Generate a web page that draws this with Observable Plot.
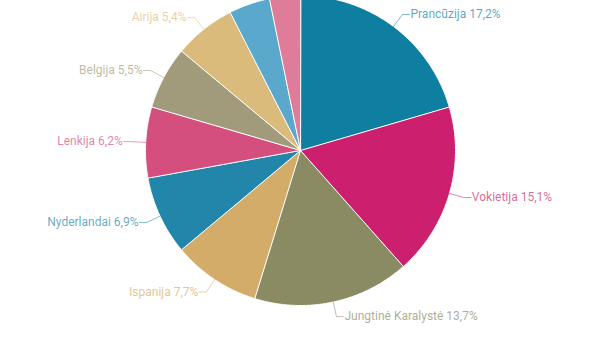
<!DOCTYPE html>
<html>
<head>
<meta charset="utf-8">
<script src="https://cdn.jsdelivr.net/npm/d3@7"></script>
<script src="https://cdn.jsdelivr.net/npm/@observablehq/plot@0.6"></script>
<style>
  html, body { margin: 0; padding: 0; background: #fff; }
  #chart { width: 600px; height: 360px; overflow: hidden; }
</style>
</head>
<body>
<div id="chart"></div>
<script>
const names = ["Prancūzija", "Vokietija", "Jungtinė Karalystė", "Ispanija", "Nyderlandai", "Lenkija", "Belgija", "Airija", "Kita1", "Kita2"];
const values = [17.2, 15.1, 13.7, 7.7, 6.9, 6.2, 5.5, 5.4, 3.6, 2.7];
const labelTexts = ["Prancūzija 17,2%", "Vokietija 15,1%", "Jungtinė Karalystė 13,7%", "Ispanija 7,7%", "Nyderlandai 6,9%", "Lenkija 6,2%", "Belgija 5,5%", "Airija 5,4%", "", ""];
const colors = ["#0e7fa0", "#cc1f6d", "#8a8a63", "#d4ac69", "#2186aa", "#d44e7e", "#a19b7b", "#dbbb7b", "#5aa8cb", "#df7c9a"];

const R = 155;
const total = d3.sum(values);
let acc = 0;
const slices = values.map((v, i) => {
  const a0 = acc / total * 2 * Math.PI;
  acc += v;
  const a1 = acc / total * 2 * Math.PI;
  return {name: names[i], label: labelTexts[i], color: colors[i], a0, a1, mid: (a0 + a1) / 2};
});

const polyPts = [];
for (const s of slices) {
  polyPts.push({name: s.name, color: s.color, x: 0, y: 0});
  const n = Math.max(2, Math.ceil((s.a1 - s.a0) / (Math.PI / 360)));
  for (let k = 0; k <= n; k++) {
    const a = s.a0 + (s.a1 - s.a0) * k / n;
    polyPts.push({name: s.name, color: s.color, x: R * Math.sin(a), y: R * Math.cos(a)});
  }
}

const leaderPts = [];
const labelPts = [];
for (const s of slices.filter(s => s.label)) {
  const sx = Math.sin(s.mid), cy = Math.cos(s.mid);
  const side = sx >= 0 ? 1 : -1;
  const p1 = {x: R * sx, y: R * cy};
  const p2 = {x: (R + 15) * sx, y: (R + 15) * cy};
  const p3 = {x: p2.x + side * 7, y: p2.y};
  for (const p of [p1, p2, p3]) leaderPts.push({name: s.name, color: s.color, ...p});
  labelPts.push({label: s.label, color: s.color, side, x: p3.x + side * 1, y: p3.y});
}

const chart = Plot.plot({
  width: 600,
  height: 360,
  margin: 0,
  x: {domain: [-300, 300], axis: null},
  y: {domain: [-210, 150], axis: null},
  style: {fontFamily: "Roboto, sans-serif", background: "#fff"},
  marks: [
    Plot.line(polyPts, {x: "x", y: "y", z: "name", fill: "color", stroke: "#fff", strokeWidth: 1, curve: "linear-closed"}),
    Plot.line(leaderPts, {x: "x", y: "y", z: "name", stroke: "color", strokeOpacity: 0.55, strokeWidth: 1}),
    Plot.text(labelPts.filter(d => d.side > 0), {x: "x", y: "y", text: "label", fill: "color", fillOpacity: 0.7, textAnchor: "start", fontSize: 12}),
    Plot.text(labelPts.filter(d => d.side < 0), {x: "x", y: "y", text: "label", fill: "color", fillOpacity: 0.7, textAnchor: "end", fontSize: 12})
  ]
});
document.getElementById("chart").appendChild(chart);
</script>
</body>
</html>
